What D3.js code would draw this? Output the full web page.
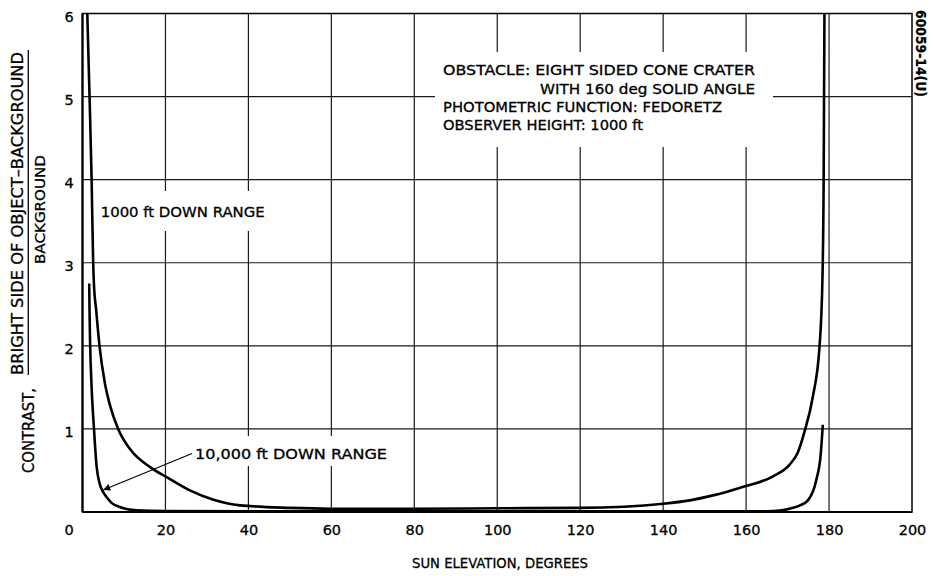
<!DOCTYPE html>
<html><head><meta charset="utf-8">
<script src="https://cdn.jsdelivr.net/npm/d3@7"></script>
<style>
html,body{margin:0;padding:0;background:#fff;}
text{font-family:"DejaVu Sans","Liberation Sans",sans-serif;fill:#000;stroke:#000;stroke-width:0.3px;}
</style></head>
<body>
<svg id="chart" width="933" height="576"></svg>
<script>
// ---- data ----
const xTicks = [0,20,40,60,80,100,120,140,160,180,200];
const yTicks = [1,2,3,4,5,6];
const range1000X = [1.1,1.7,2.2,2.55,2.75,3.3,4.1,5.4,6.6,8.6,11.4,16.3,20.3,25.9,31.4,38,50,60,80,100,120,140,146.4,152,158.4,166.5,170.5,172.5,174.1,176.1,177.7,178.4,178.7,178.9];
const range1000Y = [6.1,5.0,4.0,3.05,2.75,2.43,2.0,1.55,1.29,1.0,0.76,0.54,0.42,0.26,0.15,0.08,0.05,0.04,0.04,0.045,0.05,0.1,0.14,0.2,0.29,0.43,0.57,0.72,0.97,1.39,1.99,2.79,4.0,6.1];
const range10000X = [1.62,1.7,1.85,2.2,2.77,3.4,4.2,5.0,5.8,7,9,13,20,40,80,120,160,166.5,170.5,173,174.9,176.9,178,178.5];
const range10000Y = [2.75,2.4,2.0,1.5,1.0,0.55,0.33,0.24,0.18,0.11,0.06,0.02,0.01,0.008,0.008,0.008,0.008,0.01,0.04,0.08,0.14,0.38,0.7,1.05];
const noteLines = ["OBSTACLE: EIGHT SIDED CONE CRATER","WITH 160 deg SOLID ANGLE","PHOTOMETRIC FUNCTION: FEDORETZ","OBSERVER HEIGHT: 1000 ft"];
const label1000 = "1000 ft DOWN RANGE";
const label10000 = "10,000 ft DOWN RANGE";
const xTitle = "SUN ELEVATION, DEGREES";
const yTitleA = "CONTRAST,";
const yTitleNum = "BRIGHT SIDE OF OBJECT\u2013BACKGROUND";
const yTitleDen = "BACKGROUND";
const figId = "60059-14(U)";

// ---- layout ----
const svg = d3.select("#chart");
const L = 82.5, R = 912, T = 13.5, B = 512;
const x = d3.scaleLinear().domain([0,200]).range([L,R]);
const y = d3.scaleLinear().domain([0,6]).range([B,T]);

svg.append("rect").attr("width",933).attr("height",576).attr("fill","#fff");

// grid
const grid = svg.append("g").attr("stroke","#1a1a1a").attr("stroke-width",1.2);
grid.selectAll(".vx").data(xTicks.filter(d=>d>0&&d<200)).join("line")
  .attr("x1",d=>x(d)).attr("x2",d=>x(d)).attr("y1",T).attr("y2",B);
grid.selectAll(".hy").data(yTicks.filter(d=>d<6)).join("line")
  .attr("x1",L).attr("x2",R).attr("y1",d=>y(d)).attr("y2",d=>y(d));

// white boxes behind labels (mask gridlines)
svg.append("rect").attr("x",435).attr("y",52).attr("width",338).attr("height",95).attr("fill","#fff");
svg.append("rect").attr("x",97).attr("y",191).attr("width",172).attr("height",40).attr("fill","#fff");
svg.append("rect").attr("x",192).attr("y",436).attr("width",198).attr("height",30).attr("fill","#fff");

// border
svg.append("rect").attr("x",L).attr("y",T).attr("width",R-L).attr("height",B-T)
  .attr("fill","none").attr("stroke","#000").attr("stroke-width",1.5);
svg.append("line").attr("x1",L).attr("x2",L).attr("y1",T).attr("y2",B).attr("stroke","#000").attr("stroke-width",2.2);
svg.append("line").attr("x1",L).attr("x2",R).attr("y1",B).attr("y2",B).attr("stroke","#000").attr("stroke-width",2.2);

// curves
svg.append("clipPath").attr("id","clip").append("rect").attr("x",L).attr("y",T).attr("width",R-L).attr("height",B-T);
const line = d3.line().x(d=>x(d[0])).y(d=>y(d[1])).curve(d3.curveMonotoneX);
const c1 = range1000X.map((v,i)=>[v,range1000Y[i]]);
const c2 = range10000X.map((v,i)=>[v,range10000Y[i]]);
const cg = svg.append("g").attr("clip-path","url(#clip)");
[c1,c2].forEach(c=>cg.append("path").attr("d",line(c)).attr("fill","none")
  .attr("stroke","#000").attr("stroke-width",2.6).attr("stroke-linejoin","round"));

// x axis labels
const xAxis = d3.axisBottom(x).tickValues(xTicks).tickFormat(d3.format("d")).tickSize(0).tickPadding(0);
const xg = svg.append("g").attr("transform",`translate(0,${B})`).call(xAxis);
xg.select(".domain").remove();
xg.selectAll("text").attr("y",23).attr("dy",0).style("font-size","14.5px")
  .style("font-family","DejaVu Sans, sans-serif").attr("fill","#000")
  .attr("dx",d=>d===0?-14:0);

// y axis labels
const yAxis = d3.axisLeft(y).tickValues(yTicks).tickFormat(d3.format("d")).tickSize(0).tickPadding(0);
const yg = svg.append("g").attr("transform",`translate(${L},0)`).call(yAxis);
yg.select(".domain").remove();
yg.selectAll("text").attr("x",-13.5).attr("text-anchor","middle").attr("dy","0.38em")
  .attr("y",2).style("font-size","14.5px").style("font-family","DejaVu Sans, sans-serif").attr("fill","#000");

// titles
svg.append("text").attr("x",500).attr("y",568).attr("text-anchor","middle")
  .style("font-size","14px").attr("textLength",176).attr("lengthAdjust","spacingAndGlyphs").text(xTitle);
svg.append("text").attr("transform","translate(33.5,430.5) rotate(-90)").attr("text-anchor","middle")
  .style("font-size","15px").attr("textLength",85).attr("lengthAdjust","spacingAndGlyphs").text(yTitleA);
svg.append("text").attr("transform","translate(23.3,213.5) rotate(-90)").attr("text-anchor","middle")
  .style("font-size","15px").attr("textLength",323).attr("lengthAdjust","spacingAndGlyphs").text(yTitleNum);
svg.append("line").attr("x1",28.3).attr("x2",28.3).attr("y1",50).attr("y2",375).attr("stroke","#000").attr("stroke-width",1.3);
svg.append("text").attr("transform","translate(45,209.5) rotate(-90)").attr("text-anchor","middle")
  .style("font-size","14px").attr("textLength",109).attr("lengthAdjust","spacingAndGlyphs").text(yTitleDen);
svg.append("text").attr("transform","translate(915.5,10) rotate(90)").attr("text-anchor","start")
  .style("font-size","14px").style("font-weight","bold").attr("textLength",87).attr("lengthAdjust","spacingAndGlyphs").text(figId);

// annotation block
const noteX = [443,540,443,443], noteY=[75,93.5,112,130.3], noteW=[312,215,279,200];
noteLines.forEach((t,i)=>svg.append("text").attr("x",noteX[i]).attr("y",noteY[i])
  .style("font-size","14px").attr("textLength",noteW[i]).attr("lengthAdjust","spacingAndGlyphs").text(t));

// curve labels
svg.append("text").attr("x",100.7).attr("y",217).style("font-size","14px")
  .attr("textLength",164).attr("lengthAdjust","spacingAndGlyphs").text(label1000);
svg.append("text").attr("x",195).attr("y",458.5).style("font-size","14px")
  .attr("textLength",192).attr("lengthAdjust","spacingAndGlyphs").text(label10000);

// arrow
svg.append("defs").append("marker").attr("id","ah").attr("viewBox","0 0 10 10")
  .attr("refX",10).attr("refY",5).attr("markerWidth",10).attr("markerHeight",7)
  .attr("markerUnits","userSpaceOnUse").attr("orient","auto")
  .append("path").attr("d","M0,0 L10,5 L0,10 Z").attr("fill","#000");
svg.append("line").attr("x1",x(26.4)).attr("y1",y(0.705)).attr("x2",x(5.0)).attr("y2",y(0.265))
  .attr("stroke","#000").attr("stroke-width",1.1).attr("marker-end","url(#ah)");
</script>
</body></html>
